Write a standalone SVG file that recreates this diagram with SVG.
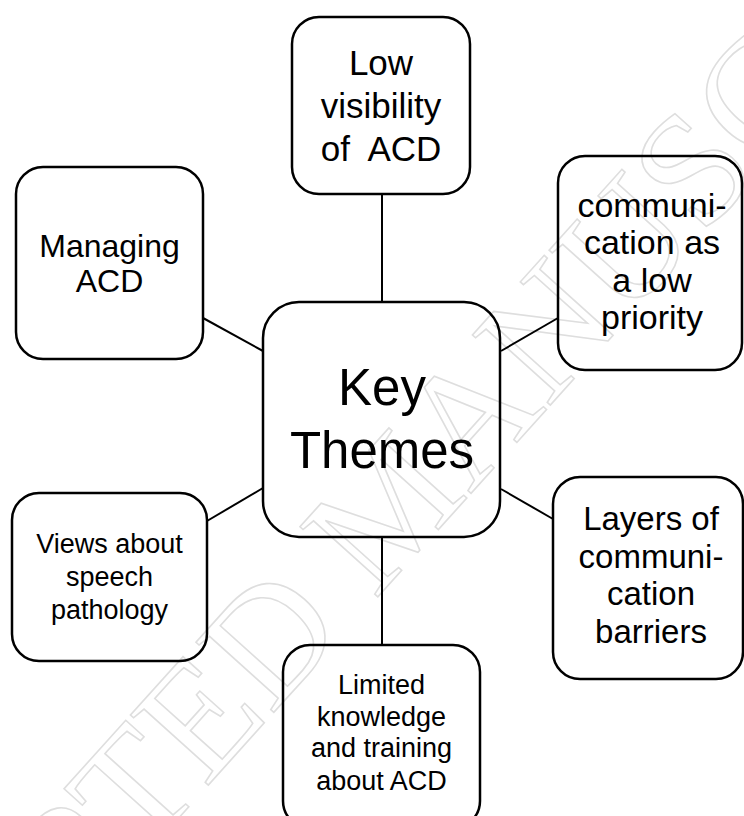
<svg xmlns="http://www.w3.org/2000/svg" width="744" height="816" viewBox="0 0 744 816">
<style>
.box{fill:none;stroke:#000;stroke-width:2.5}
.lbl{font-family:"Liberation Sans",Arial,sans-serif;fill:#000;text-anchor:middle}
.con line{stroke:#000;stroke-width:2}
.wm{font-family:"Liberation Serif","Times New Roman",serif;font-size:160px;fill:none;stroke:#dedede;stroke-width:1.6}
</style>
<rect width="744" height="816" fill="#fff"/>
<g id="watermark">
<text class="wm" transform="translate(375,600) rotate(-48)" x="-867" y="0">ACCEPTED MANUSCRIPT</text>
</g>
<g id="connectors" class="con">
<line x1="382" y1="194" x2="382" y2="302"/>
<line x1="203" y1="318" x2="263" y2="351"/>
<line x1="501" y1="351" x2="558" y2="318"/>
<line x1="207" y1="521" x2="263" y2="488"/>
<line x1="501" y1="489" x2="553" y2="519"/>
<line x1="382" y1="537" x2="382" y2="645"/>
</g>
<g id="node-low-visibility">
<rect class="box" x="292" y="17" width="178" height="177" rx="27"/>
<text class="lbl" font-size="35"><tspan x="381" y="75">Low</tspan><tspan x="381" y="118">visibility</tspan><tspan x="381" y="161" style="white-space:pre">of  ACD</tspan></text>
</g>
<g id="node-managing">
<rect class="box" x="16" y="167" width="187" height="192" rx="27"/>
<text class="lbl" font-size="32"><tspan x="109.5" y="257">Managing</tspan><tspan x="109.5" y="292">ACD</tspan></text>
</g>
<g id="node-communication-priority">
<rect class="box" x="558" y="156" width="184" height="214" rx="27"/>
<text class="lbl" font-size="34"><tspan x="652" y="217">communi-</tspan><tspan x="652" y="254">cation as</tspan><tspan x="652" y="292">a low</tspan><tspan x="652" y="329">priority</tspan></text>
</g>
<g id="node-key-themes">
<rect class="box" x="263" y="302" width="237" height="235" rx="36"/>
<text class="lbl" font-size="51"><tspan x="382" y="405">Key</tspan><tspan x="382" y="468">Themes</tspan></text>
</g>
<g id="node-views">
<rect class="box" x="12" y="493" width="195" height="168" rx="27"/>
<text class="lbl" font-size="27"><tspan x="109.5" y="553">Views about</tspan><tspan x="109.5" y="586">speech</tspan><tspan x="109.5" y="619">pathology</tspan></text>
</g>
<g id="node-layers">
<rect class="box" x="553" y="477" width="190" height="202" rx="27"/>
<text class="lbl" font-size="33"><tspan x="651" y="530">Layers of</tspan><tspan x="651" y="568">communi-</tspan><tspan x="651" y="605">cation</tspan><tspan x="651" y="643">barriers</tspan></text>
</g>
<g id="node-limited-knowledge">
<rect class="box" x="283" y="645" width="197" height="183" rx="27"/>
<text class="lbl" font-size="27"><tspan x="381.5" y="694">Limited</tspan><tspan x="381.5" y="726">knowledge</tspan><tspan x="381.5" y="757">and training</tspan><tspan x="381.5" y="790">about ACD</tspan></text>
</g>
</svg>
